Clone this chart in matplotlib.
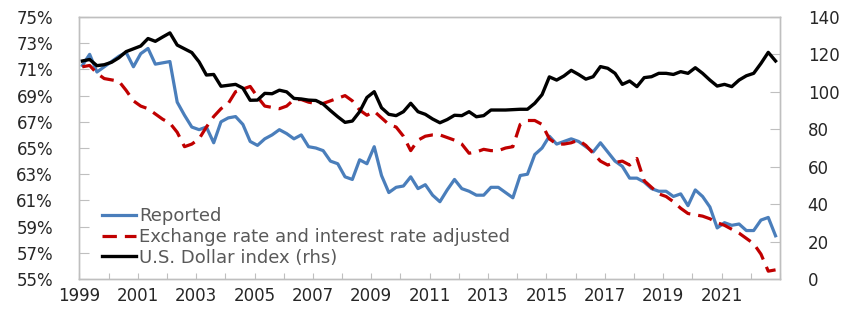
import numpy as np
import matplotlib
matplotlib.use('Agg')
import matplotlib.pyplot as plt
from matplotlib.ticker import FuncFormatter

# Quarterly data, 1999Q1 - 2022Q4
reported = [71.3, 72.15, 70.8, 71.2, 71.6, 72.0, 72.3, 71.2,
            72.2, 72.6, 71.4, 71.5, 71.6, 68.5, 67.5, 66.6,
            66.4, 66.6, 65.4, 67.0, 67.3, 67.4, 66.8, 65.5,
            65.2, 65.7, 66.0, 66.4, 66.1, 65.7, 66.0, 65.1,
            65.0, 64.8, 64.0, 63.8, 62.8, 62.6, 64.1, 63.8,
            65.1, 62.9, 61.6, 62.0, 62.1, 62.8, 61.9, 62.2,
            61.4, 60.9, 61.8, 62.6, 61.9, 61.7, 61.4, 61.4,
            62.0, 62.0, 61.6, 61.2, 62.9, 63.0, 64.5, 65.0,
            65.9, 65.3, 65.5, 65.7, 65.5, 65.1, 64.7, 65.4,
            64.7, 64.0, 63.6, 62.7, 62.7, 62.4, 61.9, 61.7,
            61.7, 61.3, 61.5, 60.6, 61.8, 61.3, 60.5, 58.9,
            59.3, 59.1, 59.2, 58.7, 58.7, 59.5, 59.7, 58.3]

adjusted = [71.2, 71.3, 70.7, 70.3, 70.2, 70.1, 69.4, 68.6,
            68.2, 68.0, 67.6, 67.2, 66.9, 66.2, 65.1, 65.3,
            65.7, 66.6, 67.4, 68.0, 68.4, 69.3, 69.5, 69.7,
            68.9, 68.2, 68.1, 68.0, 68.2, 68.7, 68.7, 68.5,
            68.4, 68.4, 68.6, 68.8, 69.0, 68.6, 67.9, 67.5,
            67.8, 67.3, 66.8, 66.6, 65.9, 64.8, 65.6, 65.9,
            66.0, 66.0, 65.8, 65.6, 65.3, 64.6, 64.7, 64.9,
            64.8, 64.8, 65.0, 65.1, 66.8, 67.1, 67.1, 66.8,
            65.7, 65.3, 65.3, 65.4, 65.6, 65.2, 64.6, 64.0,
            63.7, 63.9, 64.0, 63.7, 64.2, 62.5, 62.0, 61.5,
            61.3, 60.9, 60.4, 60.0, 59.9, 59.8, 59.6, 59.3,
            59.1, 58.8, 58.5, 58.1, 57.7, 56.9, 55.6, 55.7]

usd_index = [116.5, 117.3, 114.0, 114.5, 115.8, 118.2, 121.5, 123.0,
             124.5, 128.5, 127.0, 129.3, 131.5, 125.0, 123.0, 121.0,
             116.0, 109.0, 109.3, 103.0, 103.5, 104.0, 102.0, 95.5,
             95.6, 99.2, 99.0, 100.9, 100.0, 96.5, 96.2, 95.6,
             95.4, 93.5, 90.0, 86.7, 83.7, 84.4, 89.4, 97.0,
             100.1, 91.5, 88.0, 87.3, 89.4, 93.9, 89.4, 88.0,
             85.5, 83.5, 85.2, 87.5, 87.3, 89.4, 86.7, 87.3,
             90.3, 90.3, 90.3, 90.5, 90.7, 90.7, 93.9, 98.5,
             108.0, 106.3, 108.5, 111.5, 109.3, 106.8, 108.1, 113.5,
             112.6, 109.9, 104.0, 105.8, 102.8, 107.6, 108.1, 109.9,
             109.9, 109.3, 110.8, 109.9, 112.9, 109.9, 106.3, 103.1,
             104.0, 102.8, 106.3, 108.6, 109.9, 115.2, 121.1, 116.5]

years = np.arange(len(reported)) / 4 + 1999.1

blue = '#4A7EBB'
red = '#C00000'
spine_col = '#BFBFBF'
txt = '#262626'

fig = plt.figure(figsize=(8.45, 3.09), dpi=100)
ax = fig.add_axes([0.094, 0.097, 0.829, 0.848])
ax2 = ax.twinx()

l1, = ax.plot(years, reported, color=blue, lw=2.3, label='Reported')
l2, = ax.plot(years, adjusted, color=red, lw=2.3, dashes=(4.5, 2.5),
              label='Exchange rate and interest rate adjusted')
l3, = ax2.plot(years, usd_index, color='black', lw=2.4,
               label='U.S. Dollar index (rhs)')

ax.set_xlim(1999, 2023)
ax.set_ylim(55, 75)
ax2.set_ylim(0, 140)

ax.set_xticks(np.arange(1999, 2024, 1))
ax.set_xticklabels([str(y) if (y % 2 == 1 and y < 2023) else '' for y in range(1999, 2024)])
ax.set_yticks(np.arange(55, 76, 2))
ax.yaxis.set_major_formatter(FuncFormatter(lambda v, p: '%d%%' % v))
ax2.set_yticks(np.arange(0, 141, 20))

ax.tick_params(axis='x', direction='in', length=4, color=spine_col, pad=6,
               labelsize=12, labelcolor=txt)
ax.tick_params(axis='y', direction='in', length=7, color=spine_col, pad=19,
               labelsize=12, labelcolor=txt)
ax2.tick_params(axis='y', direction='in', length=7, color=spine_col, pad=20,
                labelsize=12, labelcolor=txt)

for a in (ax, ax2):
    for s in a.spines.values():
        s.set_color(spine_col)
        s.set_linewidth(1.0)

leg = ax2.legend(handles=[l1, l2, l3], loc='center left',
                 bbox_to_anchor=(0.032, 0.16), frameon=False, fontsize=13,
                 handlelength=1.9, handletextpad=0.15, labelspacing=0.15,
                 borderpad=0, borderaxespad=0)
for t in leg.get_texts():
    t.set_color('#595959')

plt.savefig('out.png', dpi=100)
